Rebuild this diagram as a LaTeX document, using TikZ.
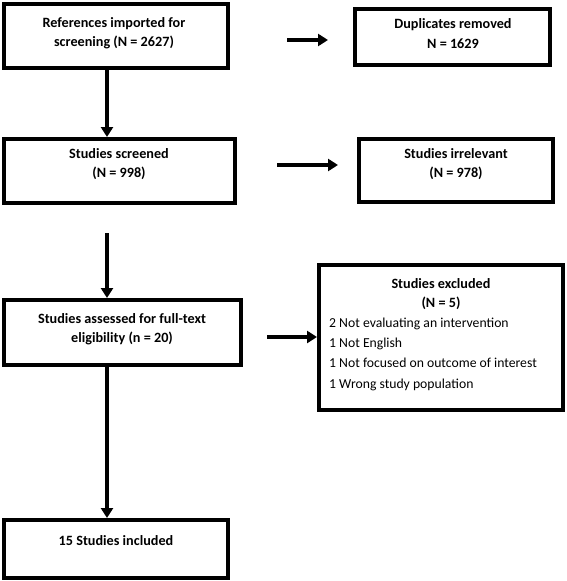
\documentclass[tikz,border=0pt]{standalone}
\usepackage{fontspec}
\setmainfont{Carlito}
\usetikzlibrary{arrows.meta,calc}
\begin{document}
\begin{tikzpicture}[x=1pt,y=-1pt,
  box/.style={draw=black,line width=4pt,fill=white,rectangle,inner sep=0pt,outer sep=0pt},
  lbl/.style={align=center,font=\fontsize{14.2pt}{19.5pt}\selectfont\bfseries,inner sep=0pt},
  lst/.style={align=left,font=\fontsize{13.7pt}{20.3pt}\selectfont,inner sep=0pt},
  arr/.style={line width=4pt,-{Triangle[width=12pt,length=10pt]}}]
\useasboundingbox (0,0) rectangle (567,581);
% boxes
\node[box,minimum width=224pt,minimum height=64pt] (b1) at (116,36) {};
\node[box,minimum width=195pt,minimum height=56pt] (dup) at (452.5,37) {};
\node[box,minimum width=231pt,minimum height=64pt] (b2) at (119.5,171) {};
\node[box,minimum width=194pt,minimum height=63pt] (irr) at (456,170.5) {};
\node[box,minimum width=237pt,minimum height=65pt] (b3) at (122.5,332.5) {};
\node[box,minimum width=244pt,minimum height=145pt] (exc) at (441,337.5) {};
\node[box,minimum width=224pt,minimum height=58pt] (b4) at (116,549) {};
% texts
\node[lbl] (t1) at (114,33) {References imported for\\screening (N = 2627)};
\node[lbl] (tdup) at (453,33.5) {Duplicates removed\\N = 1629};
\node[lbl] (t2) at (119,164) {Studies screened\\(N = 998)};
\node[lbl] (tirr) at (456,164) {Studies irrelevant\\(N = 978)};
\node[lbl] (t3) at (122,329) {Studies assessed for full-text\\eligibility (n = 20)};
\node[lbl] (texT) at (441,294) {Studies excluded\\(N = 5)};
\node[lst,anchor=west] (texL) at (329,354) {2 Not evaluating an intervention\\1 Not English\\1 Not focused on outcome of interest\\1 Wrong study population};
\node[lbl] (t4) at (116,541) {15 Studies included};
% free arrow ends
\coordinate (h1s) at (287,40);
\coordinate (h1e) at (328,40);
\coordinate (h2s) at (277,165);
\coordinate (h2e) at (338,165);
\coordinate (h3s) at (267,337);
\coordinate (v2s) at (107,233);
% arrows
\draw[arr] (b1.south -| 107,0) -- ($(b2.north -| 107,0)+(0,-2)$);
\draw[arr] (h1s) -- (h1e);
\draw[arr] (h2s) -- (h2e);
\draw[arr] (v2s) -- ($(b3.north -| 107,0)+(0,-2)$);
\draw[arr] (h3s) -- ($(exc.west |- h3s)+(-2,0)$);
\draw[arr] (b3.south -| 107,0) -- ($(b4.north -| 107,0)+(0,-2)$);
\end{tikzpicture}
\end{document}
